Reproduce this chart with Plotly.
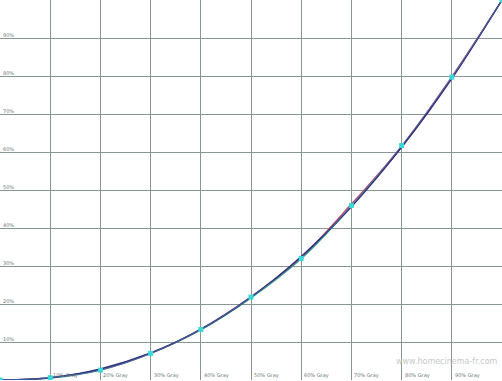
import plotly.graph_objects as go

levels = [0, 10, 20, 30, 40, 50, 60, 70, 80, 90, 100]
target = [0, 0.6, 2.9, 7.1, 13.3, 21.8, 32.5, 45.6, 61.2, 79.3, 100]
red_lum = [0, 0.6, 2.7, 7.0, 13.4, 21.9, 32.3, 46.3, 61.5, 79.8, 100]
green_lum = [0, 0.5, 2.6, 7.0, 13.2, 21.6, 31.9, 45.7, 61.4, 79.6, 100]
measured = [0, 0.6, 2.6, 7.0, 13.3, 21.8, 32.0, 45.9, 61.7, 79.7, 100]

x_labels = ["10% Gray", "20% Gray", "30% Gray", "40% Gray", "50% Gray",
            "60% Gray", "70% Gray", "80% Gray", "90% Gray"]
y_labels = ["10%", "20%", "30%", "40%", "50%", "60%", "70%", "80%", "90%"]

fig = go.Figure()
fig.add_trace(go.Scatter(x=levels, y=green_lum, mode="lines",
                         line=dict(color="#2fb070", width=1.3, shape="spline"), hoverinfo="skip"))
fig.add_trace(go.Scatter(x=levels, y=red_lum, mode="lines",
                         line=dict(color="#c04060", width=1.3, shape="spline"), hoverinfo="skip"))
fig.add_trace(go.Scatter(x=levels, y=target, mode="lines",
                         line=dict(color="#2c2f7a", width=1.4, shape="spline"), hoverinfo="skip"))
fig.add_trace(go.Scatter(x=levels, y=measured, mode="lines+markers",
                         line=dict(color="#3a70b8", width=0.8, shape="spline"),
                         marker=dict(color="#3ad8d8", size=5, symbol="square"), hoverinfo="skip"))

annotations = []
for i, t in enumerate(x_labels):
    annotations.append(dict(x=levels[i + 1], y=0, xref="x", yref="y", text=t,
                            showarrow=False, xanchor="left", yanchor="bottom",
                            xshift=1, yshift=-1,
                            font=dict(size=5, color="#6a7876", family="DejaVu Sans")))
for i, t in enumerate(y_labels):
    annotations.append(dict(x=0, y=levels[i + 1], xref="x", yref="y", text=t,
                            showarrow=False, xanchor="left", yanchor="bottom",
                            xshift=1, yshift=-2,
                            font=dict(size=5, color="#6a7876", family="DejaVu Sans")))
annotations.append(dict(x=0.996, y=0.05, xref="paper", yref="paper",
                        text="www.homecinema-fr.com", showarrow=False,
                        xanchor="right", yanchor="middle",
                        font=dict(size=8, color="#c4c9c9", family="DejaVu Sans")))

fig.update_layout(
    width=502, height=381,
    margin=dict(l=0, r=0, t=0, b=1),
    paper_bgcolor="white", plot_bgcolor="white",
    showlegend=False,
    annotations=annotations,
    xaxis=dict(range=[0, 100], dtick=10, tick0=0, showgrid=True, gridcolor="#889693",
               gridwidth=1, zeroline=False, showticklabels=False, ticks="",
               showline=False, fixedrange=True),
    yaxis=dict(range=[0, 100], dtick=10, tick0=0, showgrid=True, gridcolor="#889693",
               gridwidth=1, zeroline=False, showticklabels=False, ticks="",
               showline=True, linecolor="#6a7e7a", linewidth=2, fixedrange=True),
)

fig.write_html("out.html")
